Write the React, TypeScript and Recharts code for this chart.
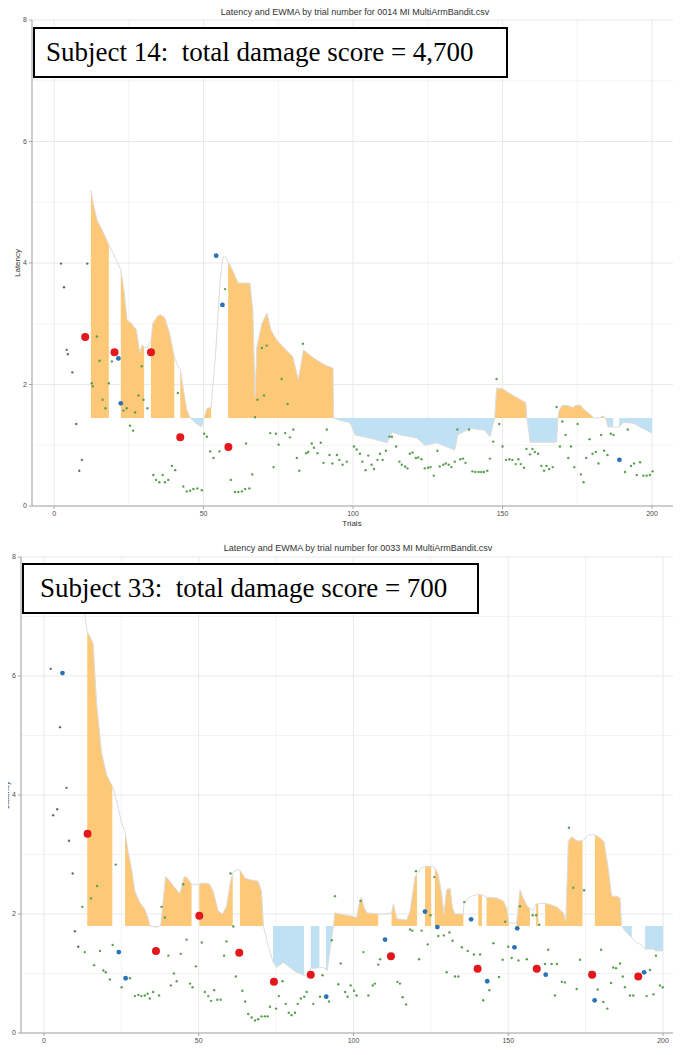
import { ComposedChart, Area, Line, Scatter, XAxis, YAxis, CartesianGrid } from 'recharts';

type Pt = [number, number];

// ---- Subject 14 (top panel) ----
const base1 = 1.45;
const ewma1: Pt[] = [
  [12.3, 5.2], [13, 5.0], [14.4, 4.7], [16, 4.55], [18.3, 4.3], [20.3, 4.1], [22.3, 3.89], [23.5, 3.5],
  [24.4, 3.06], [26, 3.0], [27.5, 2.9], [28.7, 2.52], [29.4, 2.65], [30.1, 2.62], [31.2, 2.6], [32.4, 2.73],
  [33, 3.0], [34.5, 3.12], [35.5, 3.15], [37, 3.1], [38.6, 2.85], [40.2, 2.46], [41.2, 2.33], [42.2, 2.25],
  [43.3, 1.9], [44.4, 1.58], [45.5, 1.45], [47, 1.38], [49.3, 1.3], [50.2, 1.45], [51, 1.6], [52.5, 1.63],
  [54, 2.5], [55.5, 3.7], [56.5, 4.1], [57.5, 4.1], [58.2, 4.02], [60, 3.85], [61.5, 3.67], [65.5, 3.67],
  [66.5, 3.2], [67.2, 1.8], [67.8, 2.62], [69.5, 3.0], [71.2, 3.18], [72.5, 2.9], [74.5, 2.73], [77, 2.6],
  [79.8, 2.46], [81.7, 2.08], [83.4, 2.57], [86.7, 2.44], [90.6, 2.32], [93.3, 2.27], [93.5, 1.45], [95, 1.42],
  [99, 1.37], [100.7, 1.17], [103.4, 1.14], [107, 1.1], [111.4, 1.04], [113, 1.22], [115.7, 1.17], [121.4, 1.12],
  [124, 1.0], [128, 1.04], [131, 0.98], [134, 0.92], [135, 1.17], [139, 1.28], [144, 1.25], [145.8, 1.14],
  [147.4, 1.45], [148, 1.94], [150, 1.93], [152.5, 1.85], [155, 1.78], [157.8, 1.7], [158.1, 1.45], [158.6, 1.3],
  [159.2, 1.05], [168.1, 1.05], [168.5, 1.45], [169, 1.58], [170, 1.66], [172, 1.65], [173.5, 1.62], [174.5, 1.66],
  [176, 1.66], [177, 1.6], [179.5, 1.5], [180.5, 1.45], [182.5, 1.45], [183.5, 1.48], [184.5, 1.45], [185.3, 1.3],
  [187, 1.3], [188, 1.3], [189, 1.3], [190.5, 1.38], [194, 1.36], [196, 1.3], [198, 1.25], [200, 1.2],
];
const gaps1: Pt[] = [[18.3, 22.3], [30.1, 32.4], [40.2, 42.2], [52.5, 58.2], [187, 189]];
const early1: Pt[] = [[2.3, 3.99], [11.1, 3.99], [3.3, 3.6], [4.2, 2.57], [4.6, 2.5], [6.1, 2.2], [7.4, 1.35], [9.3, 0.76], [8.4, 0.58]];
const latency1: Pt[] = [
  [12.6, 2.02], [12.9, 1.97], [14.3, 2.79], [15.2, 2.39], [16.2, 1.75], [17.2, 1.61], [18.3, 2.02], [19.3, 2.38],
  [23.2, 1.57], [24.3, 1.61], [25.4, 1.32], [26.4, 1.24], [27.1, 1.54], [28.2, 1.82], [29.3, 2.3], [29.9, 1.75],
  [31.2, 1.61], [33.2, 0.51], [34.1, 0.43], [35.2, 0.39], [36.3, 0.51], [37.1, 0.39], [38.2, 0.43], [39.4, 0.66],
  [40.5, 0.59], [41.4, 1.86], [43.2, 0.32], [44.4, 0.24], [45.5, 0.25], [46.6, 0.28], [47.9, 0.29], [49.4, 0.26],
  [50.2, 1.19], [51.1, 1.14], [52.2, 0.9], [53.3, 0.79], [55.3, 0.9], [57.2, 3.57], [59.1, 0.43], [60.5, 0.23],
  [61.6, 0.23], [62.8, 0.24], [63.9, 0.28], [64.2, 1.03], [65.3, 0.29], [66.3, 0.52], [67.2, 1.46], [68, 1.75],
  [69.5, 2.6], [70.2, 1.82], [71.1, 2.64], [72.3, 1.2], [73.4, 0.64], [74.2, 1.19], [75.1, 1.01], [76.1, 2.09],
  [77.3, 1.2], [78.1, 1.68], [78.9, 1.13], [80, 1.26], [81.2, 0.79], [82, 0.58], [83.2, 2.67], [84.3, 0.87],
  [85, 0.89], [86.2, 1.03], [86.9, 0.96], [88.1, 0.87], [89.2, 1.04], [90.1, 0.71], [91.2, 1.26], [92.1, 0.84],
  [93.1, 0.7], [94.6, 0.84], [95.4, 0.76], [96.5, 0.68], [97.9, 0.73], [100.3, 0.98], [101.2, 0.93], [102.3, 0.86],
  [103.1, 0.73], [104.2, 0.59], [105.1, 0.83], [106.2, 0.68], [107, 0.61], [108.2, 0.76], [109, 0.86], [109.9, 0.76],
  [111, 0.91], [112.2, 1.14], [113, 1.14], [114.4, 0.98], [115.5, 0.73], [116.3, 0.68], [117.4, 0.65], [118.2, 0.62],
  [119, 0.86], [119.9, 0.88], [121, 0.79], [121.8, 0.8], [122.9, 0.77], [124, 0.62], [125.1, 0.63], [125.9, 0.64],
  [127, 0.5], [128.2, 0.91], [129, 0.65], [130.2, 0.68], [131, 0.7], [132, 0.68], [132.9, 0.64], [134, 0.73],
  [134.9, 1.26], [135.9, 0.77], [136.8, 0.78], [137.6, 0.71], [138.8, 1.26], [139.9, 0.57], [140.9, 0.56], [142, 0.56],
  [142.9, 0.56], [143.8, 0.56], [144.9, 0.58], [145.8, 0.78], [146.9, 1.06], [148, 2.09], [148.9, 1.35], [150, 0.98],
  [151.2, 0.76], [152.3, 0.77], [153.3, 0.76], [154.4, 0.69], [155.3, 0.77], [156.1, 0.69], [157.2, 0.63], [158, 0.94],
  [159.2, 0.85], [160, 0.94], [160.8, 0.89], [161.9, 0.86], [163, 0.66], [163.9, 0.58], [164.7, 0.66], [165.6, 0.61],
  [166.8, 0.64], [168.1, 1.63], [169.2, 0.98], [170, 1.39], [171.1, 1.17], [172, 0.79], [172.9, 0.98], [174, 0.64],
  [175.1, 1.35], [176.2, 0.52], [177.1, 0.39], [178, 0.79], [179.1, 1.1], [180.1, 0.86], [181.2, 0.89], [182.1, 0.7],
  [183, 1.17], [184, 0.91], [185.1, 0.84], [186.2, 1.19], [187.1, 1.17], [191, 0.56], [191.9, 1.26], [193, 0.66],
  [194, 0.7], [194.9, 0.51], [196, 0.72], [197.1, 0.5], [198.2, 0.5], [199.3, 0.51], [200.2, 0.57],
];
const red1: Pt[] = [[10.4, 2.78], [20.2, 2.53], [32.4, 2.53], [42.2, 1.13], [58.3, 0.97]];
const blue1: Pt[] = [[21.5, 2.43], [22.3, 1.69], [54.2, 4.12], [56.3, 3.31], [189.1, 0.76]];

// ---- Subject 33 (bottom panel) ----
const base2 = 1.8;
const ewma2: Pt[] = [
  [12, 7.4], [13, 7.1], [14, 6.75], [15.9, 6.55], [17, 5.55], [18.6, 4.72], [20.3, 4.33], [22.1, 4.15],
  [23.5, 3.9], [25, 3.55], [26.2, 3.38], [27.2, 3.05], [28.3, 2.77], [29.4, 2.38], [31, 2.19], [32.6, 2.08],
  [33.7, 1.92], [34.3, 1.8], [36, 1.78], [37.7, 1.8], [39.3, 2.63], [40.7, 2.55], [42.3, 2.44], [43.9, 2.34],
  [45.3, 2.63], [46.4, 2.6], [47.7, 2.5], [49, 2.5], [50.2, 2.5], [51, 2.52], [53.4, 2.51], [54.7, 2.38],
  [56.3, 2.05], [57.7, 2.0], [59, 2.13], [60.1, 2.5], [61, 2.69], [62.2, 2.74], [63.3, 2.74], [65, 2.6],
  [67.1, 2.57], [69.2, 2.55], [70.3, 2.38], [70.9, 1.8], [72.5, 1.45], [74, 1.2], [75.2, 1.1], [77.3, 1.19],
  [79.5, 1.1], [81.6, 1.02], [84, 0.97], [85.2, 0.98], [86.2, 1.08], [89, 1.1], [90.1, 1.1], [91.1, 1.08],
  [91.5, 1.05], [93.5, 1.8], [94, 2.02], [95.6, 2.0], [98.9, 1.97], [101, 1.94], [101.9, 2.19], [102.6, 2.28],
  [103.5, 2.1], [104.3, 2.02], [108, 2.0], [110, 2.0], [112.3, 2.02], [112.9, 2.17], [114, 1.92], [117.2, 1.9],
  [118.3, 2.05], [119.9, 2.63], [120.5, 2.67], [121.8, 2.77], [123.1, 2.8], [125.1, 2.8], [125.7, 2.8], [126.3, 2.78],
  [127.4, 2.66], [128.5, 2.33], [129.2, 2.0], [130.1, 2.41], [131.2, 2.43], [132, 2.1], [132.8, 2.0], [135.5, 2.0],
  [135.7, 2.2], [138, 2.3], [140.3, 2.33], [141.5, 2.32], [142.3, 2.3], [143, 2.28], [146.3, 2.27], [148.4, 2.22],
  [149.5, 2.1], [150.2, 1.85], [151.5, 1.85], [152.7, 1.85], [153.8, 2.41], [154.8, 2.27], [156.5, 2.1], [157, 2.1],
  [158, 2.05], [159, 2.17], [159.7, 2.17], [160.8, 2.18], [161.9, 2.18], [163.5, 2.16], [165.6, 2.12], [167.8, 2.02],
  [168.6, 1.88], [169.4, 3.22], [170.5, 3.3], [172.1, 3.23], [174, 3.23], [176, 3.33], [178, 3.33], [179.6, 3.28],
  [180.9, 3.22], [182.3, 2.77], [183.4, 2.3], [185, 2.3], [186.1, 2.27], [186.6, 1.8], [188, 1.7], [189.9, 1.6],
  [191.5, 1.52], [193, 1.48], [194.2, 1.41], [197, 1.41], [197.5, 1.38], [200, 1.38],
];
const gaps2: Pt[] = [
  [10, 14], [22.1, 26.2], [47.7, 50.2], [61, 63.3], [70.9, 74], [84, 86.2], [89, 91.1], [108, 112.3],
  [120.5, 123.1], [125.1, 126.3], [135.5, 140.3], [141.5, 143], [150.2, 152.7], [157, 159], [159.7, 161.9],
  [174, 178], [189.9, 194.2],
];
const early2: Pt[] = [[2.2, 6.12], [5.2, 5.14], [7.3, 4.12], [4.3, 3.76], [3.0, 3.66], [8.1, 3.23], [9.3, 2.68], [10, 1.71], [11.1, 1.45]];
const latency2: Pt[] = [
  [12.4, 2.12], [13.2, 1.36], [15.2, 2.26], [16.2, 1.14], [17.2, 2.47], [18.1, 1.38], [19.2, 1.05], [20, 1.02],
  [21.3, 0.9], [22.2, 1.48], [23.2, 2.83], [25.1, 0.77], [27.8, 0.92], [29.4, 0.62], [30.5, 0.64], [31.5, 0.62],
  [32.6, 0.63], [33.5, 0.66], [34.2, 0.58], [35.3, 0.69], [37.2, 0.63], [38, 2.12], [39.1, 1.94], [40.2, 1.3],
  [41, 0.8], [42, 1.0], [42.9, 0.87], [44.2, 1.33], [45, 2.5], [46.1, 1.57], [47.2, 0.83], [48, 0.77],
  [49.1, 1.12], [51, 1.52], [52, 0.69], [53.1, 0.62], [54, 0.54], [55, 0.72], [56, 0.56], [57.1, 0.56],
  [58.2, 1.3], [59, 1.54], [60.3, 2.68], [61.2, 1.79], [62, 0.95], [64.1, 0.71], [65, 0.53], [66, 0.32],
  [67.1, 0.26], [68.2, 0.21], [69.2, 0.23], [70.3, 0.28], [71.4, 0.28], [72.3, 0.28], [73, 0.44], [75, 0.41],
  [75.9, 0.62], [77.1, 0.87], [78.1, 0.49], [79.1, 0.34], [80, 0.3], [81.1, 0.34], [82, 0.49], [83, 0.58],
  [84.1, 0.61], [84.9, 0.69], [87, 0.49], [89.2, 0.61], [90, 0.97], [92.1, 0.53], [93, 1.56], [94, 2.3],
  [95.1, 0.82], [95.9, 1.17], [97.3, 0.69], [98.1, 0.61], [99.1, 0.8], [100.2, 0.71], [101, 0.63], [102.3, 2.22],
  [103.2, 1.36], [104.8, 0.63], [106.2, 0.8], [106.9, 0.83], [108, 1.15], [108.6, 1.24], [114.2, 0.86], [115, 0.83],
  [115.9, 0.6], [117, 0.48], [118.3, 1.74], [119, 1.72], [120.2, 2.72], [121.2, 1.24], [122, 1.72], [124, 1.49],
  [124.9, 1.98], [126.1, 2.62], [127.4, 1.63], [129.2, 1.64], [130.1, 1.02], [131, 1.69], [132, 1.55], [132.8, 0.95],
  [133.9, 0.95], [135, 1.44], [135.8, 2.2], [136.9, 1.38], [138.9, 1.32], [140.9, 1.32], [141.9, 0.55], [143.9, 0.72],
  [145.2, 1.51], [147, 0.94], [148.2, 1.23], [149, 1.87], [150, 1.45], [151.1, 1.26], [153.3, 1.22], [153.8, 2.13],
  [156, 1.24], [157.9, 1.98], [159, 1.98], [160, 1.82], [161.9, 1.16], [162.9, 1.4], [164, 1.16], [165.1, 0.63],
  [165.7, 1.16], [167.3, 0.86], [168.3, 0.85], [169.6, 3.45], [171, 2.44], [172.1, 0.74], [173.2, 1.23], [174.5, 2.4],
  [176.4, 1.02], [178.9, 0.73], [180, 1.4], [180.7, 0.52], [182, 0.41], [183.2, 0.84], [183.9, 1.1], [184.8, 1.09],
  [186.1, 1.17], [187, 0.95], [187.7, 0.77], [189.3, 0.63], [190.4, 0.63], [191.5, 0.95], [194.7, 0.62], [195.8, 1.06],
  [196.9, 0.65], [197.7, 1.3], [199, 0.8], [199.9, 0.77],
];
const red2: Pt[] = [[14.1, 3.35], [36.2, 1.38], [50.2, 1.97], [63.1, 1.35], [74.3, 0.86], [86.2, 0.98], [112.1, 1.29], [140.1, 1.08], [159.2, 1.08], [177.1, 0.98], [192, 0.95]];
const blue2: Pt[] = [[6.0, 6.05], [24.2, 1.36], [26.4, 0.92], [91.2, 0.61], [110.2, 1.57], [123.1, 2.04], [127.1, 1.78], [138, 1.91], [143.2, 0.87], [152, 1.44], [152.9, 1.76], [162.1, 0.98], [177.9, 0.55], [193.9, 1.02]];

const xTicks = [0, 50, 100, 150, 200];
const yTicks = [0, 2, 4, 6, 8];
const minorX = [25, 75, 125, 175];
const minorY = [1, 3, 5, 7];
const yDomain = [0, 8];

const toPts = (arr: Pt[]) => arr.map(([t, v]) => ({ t, v }));
const dot = (r: number, fill: string) => (p: any) => <circle cx={p.cx} cy={p.cy} r={r} fill={fill} />;
const tickStyle = { fontSize: 7, fill: '#4d4d4d', fontFamily: 'Liberation Sans, Arial, sans-serif' };

function Panel(props: any) {
  const { height, margin, yWidth, labelDx, xDomain, ewma, gaps, base, early, latency, red, blue } = props;
  // split the EWMA curve into above/below baseline fills, leaving the white gaps
  const rows = ewma.map(([t, v]: Pt) => {
    const inGap = gaps.some(([a, b]: Pt) => t > a && t < b);
    return { t, ewma: v, orange: !inGap && v >= base ? v : null, below: !inGap && v <= base ? v : null };
  });
  // minor grid lines: map the axis values into the plot box
  const minorH = ({ offset }: any) =>
    minorY.map((v) => offset.top + offset.height * (1 - (v - yDomain[0]) / (yDomain[1] - yDomain[0])));
  const minorV = ({ offset }: any) =>
    minorX.map((v) => offset.left + (offset.width * (v - xDomain[0])) / (xDomain[1] - xDomain[0]));
  return (
    <ComposedChart width={681} height={height} data={rows} margin={margin}>
      <CartesianGrid stroke="#f3f3f3" strokeWidth={1} horizontalCoordinatesGenerator={minorH} verticalCoordinatesGenerator={minorV} />
      <CartesianGrid stroke="#e9e9e9" strokeWidth={1} />
      <XAxis
        type="number"
        dataKey="t"
        domain={xDomain}
        ticks={xTicks}
        allowDataOverflow
        height={14}
        tickSize={3}
        tick={tickStyle}
        stroke="#a6a6a6"
      />
      <YAxis
        type="number"
        domain={yDomain}
        ticks={yTicks}
        allowDataOverflow
        width={yWidth}
        tickSize={3}
        tick={tickStyle}
        stroke="#a6a6a6"
        label={{
          value: 'Latency',
          angle: -90,
          position: 'center',
          dx: labelDx,
          style: { fontSize: 8, fill: '#333', fontFamily: 'Liberation Sans, Arial, sans-serif' },
        }}
      />
      <Area type="linear" dataKey="orange" baseValue={base} fill="#fdc978" fillOpacity={1} stroke="none" isAnimationActive={false} />
      <Area type="linear" dataKey="below" baseValue={base} fill="#bfe1f3" fillOpacity={1} stroke="none" isAnimationActive={false} />
      <Line type="linear" dataKey="ewma" stroke="#dcdcdc" strokeWidth={1} dot={false} isAnimationActive={false} />
      <Scatter data={toPts(early)} dataKey="v" shape={dot(1.2, '#6b6b6b')} isAnimationActive={false} />
      <Scatter data={toPts(latency)} dataKey="v" shape={dot(1.2, '#5b9f52')} isAnimationActive={false} />
      <Scatter data={toPts(blue)} dataKey="v" shape={dot(2.4, '#2b73b6')} isAnimationActive={false} />
      <Scatter data={toPts(red)} dataKey="v" shape={dot(4, '#e2181c')} isAnimationActive={false} />
    </ComposedChart>
  );
}

const sans = 'Liberation Sans, Arial, sans-serif';
const serif = 'Liberation Serif, Times New Roman, serif';

const Txt = ({ x, y, text, size = 9 }: any) => (
  <div
    style={{
      position: 'absolute',
      left: x,
      top: y,
      transform: 'translate(-50%, -50%)',
      whiteSpace: 'nowrap',
      fontFamily: sans,
      fontSize: size,
      color: '#333',
      lineHeight: 1,
      zIndex: 2,
    }}
  >
    {text}
  </div>
);

const Box = ({ x, y, w, h, pad, text }: any) => (
  <div
    style={{
      position: 'absolute',
      left: x,
      top: y,
      width: w,
      height: h,
      boxSizing: 'border-box',
      border: '2px solid #000',
      background: '#fff',
      fontFamily: serif,
      fontSize: 27,
      display: 'flex',
      alignItems: 'center',
      paddingLeft: pad,
      whiteSpace: 'pre',
      color: '#000',
      zIndex: 2,
    }}
  >
    {text}
  </div>
);

export default function App() {
  return (
    <div style={{ position: 'relative', width: 681, height: 1055, margin: -8, background: '#fff', overflow: 'hidden' }}>
      <div style={{ position: 'absolute', left: 0, top: 0 }}>
        <Panel
          height={530}
          margin={{ top: 20, right: 0, bottom: 10, left: 0 }}
          yWidth={32}
          labelDx={1}
          xDomain={[-7.4, 209.7]}
          ewma={ewma1}
          gaps={gaps1}
          base={base1}
          early={early1}
          latency={latency1}
          red={red1}
          blue={blue1}
        />
      </div>
      <div style={{ position: 'absolute', left: 0, top: 520 }}>
        <Panel
          height={535}
          margin={{ top: 37, right: 0, bottom: 8, left: 0 }}
          yWidth={21}
          labelDx={-4}
          xDomain={[-7.4, 205.8]}
          ewma={ewma2}
          gaps={gaps2}
          base={base2}
          early={early2}
          latency={latency2}
          red={red2}
          blue={blue2}
        />
      </div>
      <Txt x={355} y={12} text="Latency and EWMA by trial number for 0014 MI MultiArmBandit.csv" />
      <Txt x={358} y={548} text="Latency and EWMA by trial number for 0033 MI MultiArmBandit.csv" />
      <Txt x={352} y={524} text="Trials" size={8} />
      <Txt x={355} y={1050} text="Trials" size={8} />
      <Box x={33} y={27} w={475} h={51} pad={11} text="Subject 14:  total damage score = 4,700" />
      <Box x={22} y={563} w={457} h={51} pad={16} text="Subject 33:  total damage score = 700" />
    </div>
  );
}
